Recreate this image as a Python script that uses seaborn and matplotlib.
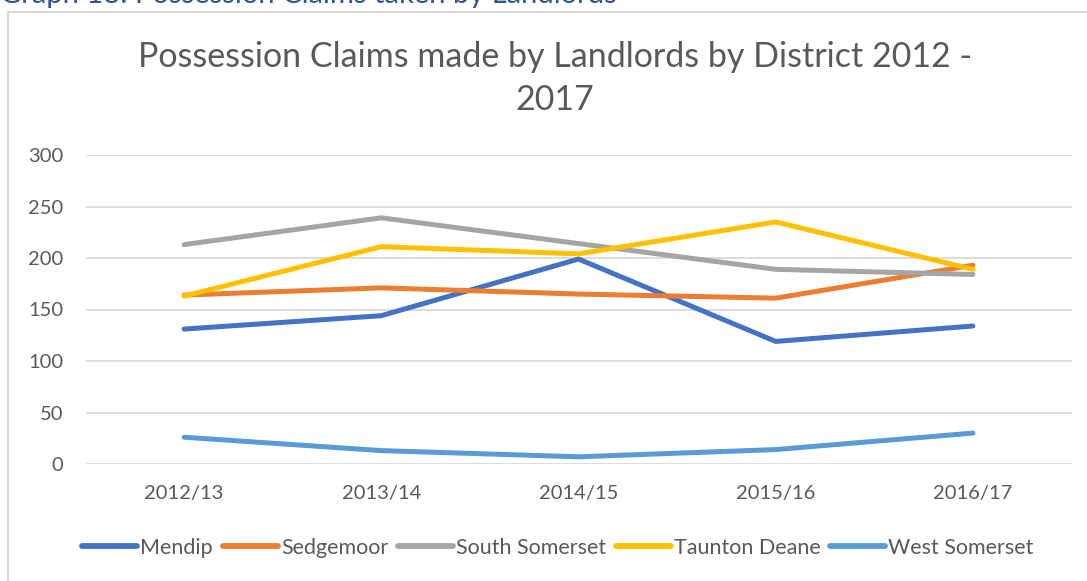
import seaborn as sns
import matplotlib.pyplot as plt
import matplotlib.patches as patches
import pandas as pd

years = ['2012/13', '2013/14', '2014/15', '2015/16', '2016/17']
mendip = [131, 144, 199, 119, 134]
sedgemoor = [164, 171, 165, 161, 193]
south_somerset = [213, 239, 214, 189, 184]
taunton_deane = [163, 211, 204, 235, 189]
west_somerset = [26, 13, 7, 14, 30]

districts = ['Mendip', 'Sedgemoor', 'South Somerset', 'Taunton Deane', 'West Somerset']
colours = ['#4472C4', '#ED7D31', '#A5A5A5', '#FFC000', '#5B9BD5']

rows = []
for name, values in zip(districts, [mendip, sedgemoor, south_somerset, taunton_deane, west_somerset]):
    for i, v in enumerate(values):
        rows.append([i, v, name])
data_frame = pd.DataFrame(rows, columns=['year', 'claims', 'district'])

sns.set_style('white')
plt.rcParams['font.family'] = ['Lato', 'DejaVu Sans']
grey_text = '#595959'

fig = plt.figure(figsize=(10.87, 5.81), dpi=100)
ax = fig.add_axes([85.5 / 1087, (581 - 464) / 581, 986 / 1087, 309 / 581])

sns.lineplot(data=data_frame, x='year', y='claims', hue='district', palette=colours,
             linewidth=3.6, ax=ax, legend=False, solid_capstyle='round')

ax.set_xlim(-0.5, 4.5)
ax.set_ylim(0, 300)
ax.set_yticks(range(0, 301, 50))
ax.set_xticks(range(len(years)))
ax.set_xticklabels(years)
ax.grid(axis='y', color='#D9D9D9', linewidth=1.3)
ax.set_axisbelow(True)
for s in ax.spines.values():
    s.set_visible(False)
ax.tick_params(axis='y', length=0, pad=16, labelsize=14.5, labelcolor=grey_text)
ax.tick_params(axis='x', length=0, pad=15, labelsize=14.5, labelcolor=grey_text)
ax.set_xlabel('')
ax.set_ylabel('')

fig.text(555 / 1087, 1 - 57 / 581, 'Possession Claims made by Landlords by District 2012 -',
         ha='center', va='center', fontsize=24.5, color=grey_text)
fig.text(555 / 1087, 1 - 100 / 581, '2017',
         ha='center', va='center', fontsize=24.5, color=grey_text)

# header caption, cut off at the top
fig.text(0.0, 1 - 3 / 581, 'Graph 18: Possession Claims taken by Landlords',
         ha='left', va='baseline', fontsize=21, color='#2F5496')

# chart frame
fig.patches.append(patches.Rectangle((8 / 1087, -0.1), 1.2, 1.1 - 12 / 581,
                                     transform=fig.transFigure, fill=False,
                                     edgecolor='#D9D9D9', linewidth=1.5))

handles = [plt.Line2D([], [], color=c, linewidth=4.2, solid_capstyle='round') for c in colours]
fig.legend(handles, districts, loc='center', bbox_to_anchor=(558 / 1087, 1 - 548 / 581),
           ncol=5, frameon=False, handlelength=2.55, handletextpad=0.15, columnspacing=0.45,
           labelcolor=grey_text, prop={'size': 15.5})

plt.savefig('out.png', dpi=100)
plt.close()
